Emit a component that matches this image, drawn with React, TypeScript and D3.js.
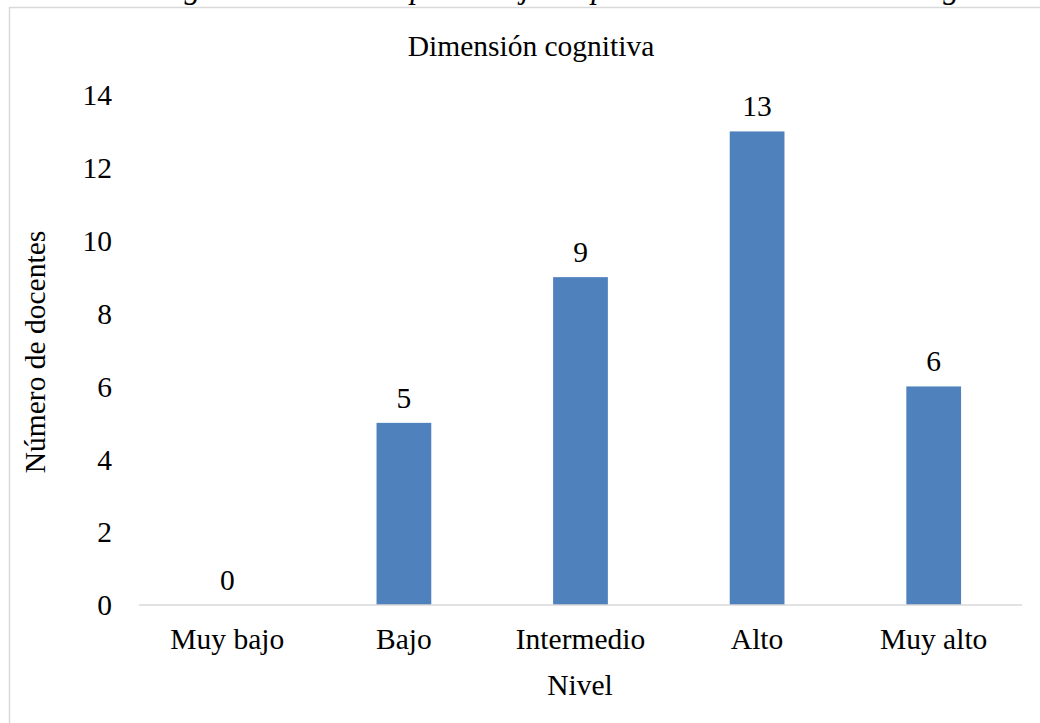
import React, { useRef, useEffect } from "react";
import * as d3 from "d3";

const categories = ["Muy bajo", "Bajo", "Intermedio", "Alto", "Muy alto"];
const docentes = [0, 5, 9, 13, 6];
const yTicks = [0, 2, 4, 6, 8, 10, 12, 14];

const chartTitle = "Dimensión cognitiva";
const xTitle = "Nivel";
const yTitle = "Número de docentes";
const captionText =
  "Distribución según nivel de los aprendizajes esperados en la dimensión cognitiva";

const App = () => {
  const ref = useRef<SVGSVGElement>(null);

  useEffect(() => {
    const width = 1040;
    const height = 723;
    const font = "'Liberation Serif', 'Times New Roman', serif";

    const svg = d3.select(ref.current);
    svg.selectAll("*").remove();
    svg.attr("width", width).attr("height", height);

    svg.append("rect")
      .attr("width", width)
      .attr("height", height)
      .attr("fill", "white");

    // caption of the figure, mostly cut off by the top edge
    svg.append("text")
      .attr("x", -12)
      .attr("y", -2)
      .attr("font-family", font)
      .attr("font-style", "italic")
      .attr("font-size", 32)
      .attr("fill", "#000")
      .text(captionText);

    // chart frame
    svg.append("rect")
      .attr("x", 9.5)
      .attr("y", 7.5)
      .attr("width", 1100)
      .attr("height", 800)
      .attr("fill", "white")
      .attr("stroke", "#d9d9d9")
      .attr("stroke-width", 1.5);

    const left = 139;
    const right = 1022;
    const top = 95;
    const bottom = 605;

    const x = d3.scaleBand<string>()
      .domain(categories)
      .range([left, right])
      .paddingInner(0.69)
      .paddingOuter(0.345);

    const y = d3.scaleLinear()
      .domain([0, 14])
      .range([bottom, top]);

    const g = svg.append("g");

    g.selectAll("rect.bar")
      .data(docentes)
      .join("rect")
      .attr("class", "bar")
      .attr("x", (_, i) => x(categories[i])!)
      .attr("y", d => y(d))
      .attr("width", x.bandwidth())
      .attr("height", d => y(0) - y(d))
      .attr("fill", "#4f81bd");

    // x axis line
    g.append("line")
      .attr("x1", left)
      .attr("x2", right)
      .attr("y1", y(0))
      .attr("y2", y(0))
      .attr("stroke", "#d9d9d9")
      .attr("stroke-width", 1.5);

    // y tick labels
    g.selectAll("text.ytick")
      .data(yTicks)
      .join("text")
      .attr("class", "ytick")
      .attr("x", 112)
      .attr("y", d => y(d))
      .attr("dy", "0.35em")
      .attr("text-anchor", "end")
      .attr("font-family", font)
      .attr("font-size", 29.5)
      .text(d => d);

    // x tick labels
    g.selectAll("text.xtick")
      .data(categories)
      .join("text")
      .attr("class", "xtick")
      .attr("x", d => x(d)! + x.bandwidth() / 2)
      .attr("y", 649)
      .attr("text-anchor", "middle")
      .attr("font-family", font)
      .attr("font-size", 29.5)
      .text(d => d);

    // value labels
    g.selectAll("text.val")
      .data(docentes)
      .join("text")
      .attr("class", "val")
      .attr("x", (_, i) => x(categories[i])! + x.bandwidth() / 2)
      .attr("y", d => y(d) - 15)
      .attr("text-anchor", "middle")
      .attr("font-family", font)
      .attr("font-size", 29.5)
      .text(d => d);

    svg.append("text")
      .attr("x", 531)
      .attr("y", 56)
      .attr("text-anchor", "middle")
      .attr("font-family", font)
      .attr("font-size", 29.5)
      .text(chartTitle);

    svg.append("text")
      .attr("x", 580)
      .attr("y", 695)
      .attr("text-anchor", "middle")
      .attr("font-family", font)
      .attr("font-size", 29.5)
      .text(xTitle);

    svg.append("text")
      .attr("transform", `translate(45, 352) rotate(-90)`)
      .attr("text-anchor", "middle")
      .attr("font-family", font)
      .attr("font-size", 29.5)
      .text(yTitle);
  }, []);

  return (
    <svg ref={ref} style={{ position: "absolute", left: 0, top: 0, display: "block" }} />
  );
};

export default App;
